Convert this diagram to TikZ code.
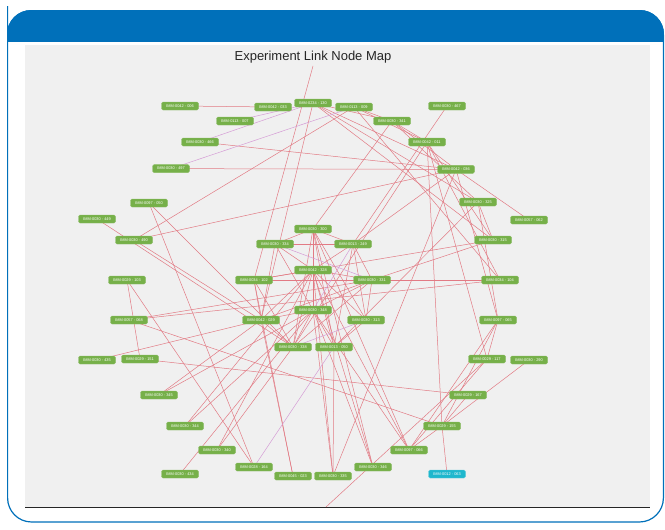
\documentclass[tikz,border=0pt]{standalone}
\usepackage{fontspec}
\setmainfont{Liberation Sans}
\usetikzlibrary{backgrounds}

\definecolor{hdrblue}{RGB}{0,112,186}
\definecolor{panelgray}{RGB}{240,240,240}
\definecolor{immgreen}{RGB}{118,176,73}
\definecolor{immcyan}{RGB}{30,183,205}
\definecolor{linkred}{RGB}{226,122,132}
\definecolor{linkpink}{RGB}{214,156,214}

\begin{document}
\begin{tikzpicture}[x=1pt,y=-1pt,
  imm/.style={fill=immgreen,draw=immgreen!85!white,line width=0.4pt,rounded corners=1.5pt,
    text=white,minimum width=37pt,minimum height=8pt,inner sep=0pt,
    font=\fontsize{3.9}{4.4}\selectfont},
  immsel/.style={imm,fill=immcyan,draw=immcyan!70!white},
  link/.style={draw=linkred,line width=0.5pt},
  linkp/.style={draw=linkpink,line width=0.5pt}]
\useasboundingbox (0,0) rectangle (665,530);

%%%%%title
\node[font=\fontsize{13}{15}\selectfont,text=black!85] (title) at (313,57) {Experiment Link Node Map};

%%%%%nodes, outer ring
\node[imm] (q006) at (180,106) {IMM-0042 - 006};
\node[imm] (q033) at (273,107) {IMM-0042 - 033};
\node[imm] (q130) at (313,103) {IMM-0234 - 130};
\node[imm] (q009) at (354,107) {IMM-0113 - 009};
\node[imm] (q467) at (447,106) {IMM-0030 - 467};
\node[imm] (q007) at (235,121) {IMM-0113 - 007};
\node[imm] (q341) at (392,121) {IMM-0030 - 341};
\node[imm] (q466) at (200,142) {IMM-0030 - 466};
\node[imm] (q011) at (427,142) {IMM-0042 - 011};
\node[imm] (q497) at (171,168.6) {IMM-0030 - 497};
\node[imm] (q036) at (456,169.4) {IMM-0042 - 036};
\node[imm] (qa050) at (149,203) {IMM-0097 - 050};
\node[imm] (q325) at (478,202) {IMM-0030 - 325};
\node[imm] (q449) at (97,219) {IMM-0030 - 449};
\node[imm] (q062) at (529,220) {IMM-0057 - 062};
\node[imm] (q490) at (134,240) {IMM-0030 - 490};
\node[imm] (q315) at (493,240) {IMM-0030 - 315};
\node[imm] (q103) at (127,280) {IMM-0029 - 103};
\node[imm] (q104) at (500,280) {IMM-0034 - 104};
\node[imm] (q068) at (129,320) {IMM-0057 - 068};
\node[imm] (q065) at (498,320) {IMM-0097 - 065};
\node[imm] (q435) at (97,360) {IMM-0030 - 435};
\node[imm] (q151) at (140,359) {IMM-0029 - 151};
\node[imm] (q117) at (487,359) {IMM-0029 - 117};
\node[imm] (q290) at (529,360) {IMM-0030 - 290};
\node[imm] (q345) at (159,395) {IMM-0030 - 345};
\node[imm] (q167) at (468,395) {IMM-0029 - 167};
\node[imm] (q344) at (185,426) {IMM-0030 - 344};
\node[imm] (q155) at (442,426) {IMM-0029 - 155};
\node[imm] (q340) at (217,450) {IMM-0030 - 340};
\node[imm] (q066) at (409,450) {IMM-0097 - 066};
\node[imm] (q164) at (254,467) {IMM-0028 - 164};
\node[imm] (q346) at (373,467) {IMM-0030 - 346};
\node[imm] (q434) at (180,474) {IMM-0030 - 434};
\node[imm] (q023) at (293,476) {IMM-0045 - 023};
\node[imm] (q335) at (333,476) {IMM-0030 - 335};
\node[immsel] (q063) at (447,474) {IMM-0012 - 063};

%%%%%nodes, inner cluster
\node[imm] (q300) at (313,229) {IMM-0030 - 300};
\node[imm] (q334) at (275,244) {IMM-0030 - 334};
\node[imm] (q249) at (353,244) {IMM-0013 - 249};
\node[imm] (q328) at (313,270) {IMM-0042 - 328};
\node[imm] (q102) at (254,280) {IMM-0034 - 102};
\node[imm] (q331) at (372,280) {IMM-0030 - 331};
\node[imm] (q348) at (313,310) {IMM-0030 - 348};
\node[imm] (q029) at (261,320) {IMM-0042 - 029};
\node[imm] (q313) at (366,320) {IMM-0030 - 313};
\node[imm] (q338) at (293,347) {IMM-0030 - 338};
\node[imm] (qb050) at (334,347) {IMM-0013 - 050};

%%%%%links to nodes outside the view
\coordinate (offtop) at (313,66);
\coordinate (offbot) at (326,507);

\begin{scope}[on background layer]
%%%%%frame
\begin{scope}
\clip[rounded corners=24pt] (7,10) rectangle (664,522);
\fill[white] (7,10) rectangle (664,530);
\fill[hdrblue] (7,10) rectangle (664,42);
\end{scope}
\draw[hdrblue,line width=1.2pt,rounded corners=24pt] (7.6,30) -- (7.6,10.6) -- (663.4,10.6) -- (663.4,522) -- (7.6,522) -- cycle;
\fill[panelgray] (25,45) rectangle (650,507);
\draw[black!85,line width=1.6pt] (25,507.5) -- (650,507.5);

%%%%%links
\foreach \a/\b in {q006/q033,q466/q036,q497/q036,q490/q009,q490/q036,q490/q029,
  qa050/q164,qa050/q338,q449/q338,q102/offtop,q130/q029,q130/q325,q130/q315,
  q130/q036,q130/q341,q009/q341,q009/q011,q009/q104,q341/q300,q341/q011,q341/q036,
  q341/q325,q467/q249,q011/q104,q011/q315,q011/q117,q011/q155,q011/q338,q036/q062,
  q036/q249,q036/q065,q036/q335,q325/q315,q325/q065,q325/qb050,q315/q331,q331/q104,
  q068/q104,q065/q117,q065/q155,q065/q066,q117/q066,q117/offbot,q290/q155,q167/q155,
  q151/q167,q068/q155,q155/q063,q155/q066,q346/q300,q346/q348,q346/q328,q335/q328,
  q335/q348,q335/qb050,q023/q102,q023/q029,q434/q348,q340/q328,q340/q338,q344/q328,
  q344/q348,q345/q029,q345/q348,q103/q151,q103/q164,q068/q331,q435/q029,q066/q348,
  q066/q328,q066/q300,q300/q334,q300/q249,q300/q328,q300/q348,q300/q338,q300/qb050,
  q300/q313,q334/q328,q334/q348,q334/q249,q249/q328,q249/q331,q249/q313,q249/qb050,
  q328/q102,q328/q331,q328/q348,q328/q029,q328/q313,q328/q338,q328/qb050,q102/q029,
  q102/q338,q331/q313,q331/q348,q331/q338,q348/q029,q348/q338,q348/qb050,q029/q338,
  q313/qb050,q334/q029,q331/q029,q315/q102,q104/q102}
  \draw[link] (\a.center) -- (\b.center);
\foreach \a/\b in {q130/q007,q130/q466,q009/q497,q164/qb050,q313/q338,q249/q348,q334/q331}
  \draw[linkp] (\a.center) -- (\b.center);
\end{scope}
\end{tikzpicture}
\end{document}
